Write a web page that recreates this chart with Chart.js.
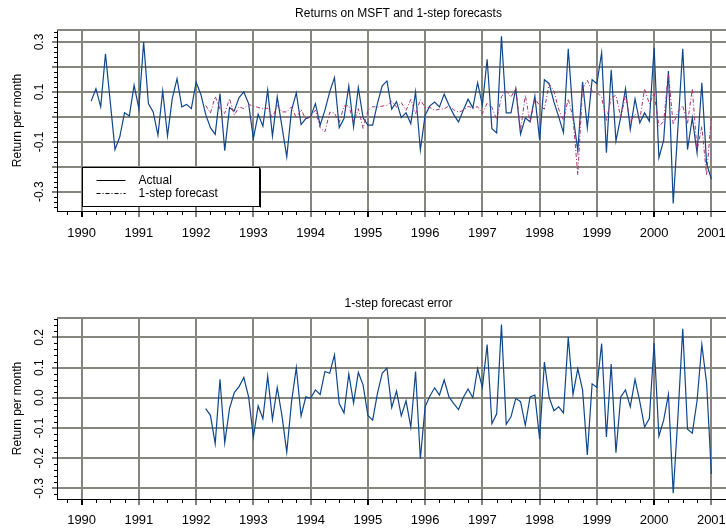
<!DOCTYPE html>
<html>
<head>
<meta charset="utf-8">
<script src="https://cdn.jsdelivr.net/npm/chart.js@4.4.0/dist/chart.umd.min.js"></script>
<style>
html, body { margin: 0; padding: 0; background: #fff; overflow: hidden; width: 726px; height: 529px; }
#chart1 { position: absolute; left: 0; top: 0; }
#chart2 { position: absolute; left: 0; top: 262px; }
</style>
</head>
<body>
<canvas id="chart1" width="760" height="262"></canvas>
<canvas id="chart2" width="760" height="267"></canvas>
<script>
// monthly MSFT returns, Mar 1990 .. Jan 2001
const actualStart = '1990-03';
const actual = [
    0.063, 0.113, 0.040, 0.253, 0.060, -0.131, -0.080, 0.017, 0.004, 0.127,
    0.033, 0.300, 0.053, 0.020, -0.073, 0.104, -0.076, 0.073, 0.153, 0.040, 0.050, 0.033,
    0.139, 0.090, 0.010, -0.043, -0.070, 0.093, -0.135, 0.037, 0.024, 0.077, 0.100, 0.053,
    -0.087, 0.011, -0.037, 0.107, -0.077, 0.080, -0.040, -0.160, 0.027, 0.096, -0.031, -0.007,
    0.000, 0.053, -0.033, 0.027, 0.100, 0.157, -0.043, -0.007, 0.124, -0.040, 0.117, -0.004,
    -0.033, -0.033, 0.053, 0.124, 0.144, 0.031, 0.061, -0.003, 0.016, -0.027, 0.100, -0.133,
    0.007, 0.044, 0.059, 0.040, 0.091, 0.047, 0.009, -0.020, 0.027, 0.071, 0.036, 0.137,
    0.047, 0.231, -0.047, -0.064, 0.323, 0.016, 0.016, 0.113, -0.069, -0.004, -0.020, 0.083,
    -0.091, 0.149, 0.133, 0.060, 0.000, -0.063, 0.273, 0.007, -0.136, 0.140, -0.043, 0.149,
    0.133, 0.257, -0.144, 0.189, -0.096, 0.000, 0.113, -0.051, 0.072, -0.024, 0.016, -0.017,
    0.277, -0.164, -0.093, 0.184, -0.347, -0.040, 0.273, -0.131, -0.004, -0.144, 0.137, -0.187,
    -0.249
];

// 1-step forecasts and errors, Mar 1992 .. Jan 2001
const forecastStart = '1992-03';
const forecast = [
    0.046, 0.015, 0.082, 0.032, 0.014, 0.073, 0.007, 0.040, 0.033, 0.050,
    0.043, 0.038, 0.032, 0.035, -0.005, 0.046, 0.020, 0.020, 0.040, -0.004, 0.029, -0.010,
    0.002, 0.027, -0.044, -0.060, 0.019, 0.015, -0.024, 0.043, 0.045, -0.023, 0.033, -0.046,
    0.025, 0.041, 0.039, 0.043, 0.046, 0.063, 0.039, 0.057, 0.026, 0.070, 0.013, 0.069,
    0.037, 0.038, 0.026, 0.031, 0.032, 0.044, 0.028, 0.019, 0.026, 0.042, 0.036, 0.041,
    0.013, 0.055, 0.039, -0.011, 0.081, 0.104, 0.079, 0.115, -0.056, 0.087, -0.023, 0.074,
    0.045, 0.031, 0.132, 0.103, 0.030, -0.013, 0.072, -0.004, -0.232, 0.114, 0.146, 0.103,
    0.099, 0.078, -0.014, 0.077, 0.086, -0.003, 0.087, -0.021, 0.011, -0.011, 0.113, 0.052,
    0.096, -0.037, -0.019, 0.173, -0.031, 0.020, 0.045, -0.027, 0.113, -0.134, -0.039, -0.235,
    0.003
];
const fcError = [
    -0.036, -0.058, -0.152, 0.061, -0.149, -0.036, 0.017, 0.037, 0.067, 0.003,
    -0.130, -0.027, -0.069, 0.072, -0.072, 0.034, -0.060, -0.180, -0.013, 0.100, -0.060, 0.003,
    -0.002, 0.026, 0.011, 0.087, 0.081, 0.142, -0.019, -0.050, 0.079, -0.017, 0.084, 0.042,
    -0.058, -0.074, 0.014, 0.081, 0.098, -0.032, 0.022, -0.060, -0.010, -0.097, 0.087, -0.202,
    -0.030, 0.006, 0.033, 0.009, 0.059, 0.003, -0.019, -0.039, 0.001, 0.029, 0.000, 0.096,
    0.034, 0.176, -0.086, -0.053, 0.242, -0.088, -0.063, -0.002, -0.013, -0.091, 0.003, 0.009,
    -0.136, 0.118, 0.001, -0.043, -0.030, -0.050, 0.201, 0.011, 0.096, 0.026, -0.189, 0.046,
    0.034, 0.179, -0.130, 0.112, -0.182, 0.003, 0.026, -0.030, 0.061, -0.013, -0.097, -0.069,
    0.181, -0.127, -0.074, 0.011, -0.316, -0.060, 0.228, -0.104, -0.117, -0.010, 0.176, 0.048,
    -0.252
];

const yearTicks = [1990, 1991, 1992, 1993, 1994, 1995, 1996, 1997, 1998, 1999, 2000, 2001];
const gridTop = [-0.3, -0.2, -0.1, 0, 0.1, 0.2, 0.3];
const labelsTop = [['0.3', 0.3], ['0.1', 0.1], ['-0.1', -0.1], ['-0.3', -0.3]];
const gridBottom = [-0.3, -0.2, -0.1, 0, 0.1, 0.2];
const labelsBottom = [['0.2', 0.2], ['0.1', 0.1], ['0.0', 0], ['-0.1', -0.1], ['-0.2', -0.2], ['-0.3', -0.3]];

const gridColor = '#86867f';
const blue = '#10478c';
const purple = '#a8306e';
const fontName = "'Liberation Sans', Arial, sans-serif";

Chart.defaults.font.family = fontName;
Chart.defaults.color = '#000';

// month string 'YYYY-MM' -> decimal year, then pair with the values
function toPoints(start, values) {
    const y0 = parseInt(start.slice(0, 4));
    const m0 = parseInt(start.slice(5, 7)) - 1;
    return values.map((v, i) => ({ x: y0 + (m0 + i) / 12, y: v }));
}

// titles, rotated y labels, minor ticks, legend
const extras = {
    id: 'extras',
    afterDraw(chart, args, opts) {
        const ctx = chart.ctx;
        const a = chart.chartArea;
        const xs = chart.scales.x;
        const ys = chart.scales.y;
        ctx.save();

        ctx.strokeStyle = gridColor;
        ctx.lineWidth = 2;
        ctx.beginPath();
        ctx.moveTo(a.left, a.top);
        ctx.lineTo(a.right, a.top);
        ctx.stroke();

        ctx.strokeStyle = '#000';
        ctx.lineWidth = 1;
        for (let i = -3; i < 48; i++) {
            if (i % 4 === 0) continue;
            const px = Math.round(xs.getPixelForValue(1990 + i / 4)) + 0.5;
            if (px < a.left || px > a.right) continue;
            ctx.beginPath();
            ctx.moveTo(px, a.bottom);
            ctx.lineTo(px, a.bottom + 4);
            ctx.stroke();
        }
        for (let i = -20; i <= 20; i++) {
            if (i % 5 === 0) continue;
            const py = Math.round(ys.getPixelForValue(i * 0.02)) + 0.5;
            if (py < a.top || py > a.bottom) continue;
            ctx.beginPath();
            ctx.moveTo(a.left, py);
            ctx.lineTo(a.left - 3, py);
            ctx.stroke();
        }

        ctx.fillStyle = '#000';
        ctx.font = '12px ' + fontName;
        ctx.textAlign = 'center';
        ctx.textBaseline = 'middle';
        opts.labels.forEach(l => {
            ctx.save();
            ctx.translate(40, ys.getPixelForValue(l[1]));
            ctx.rotate(-Math.PI / 2);
            ctx.fillText(l[0], 0, 0);
            ctx.restore();
        });
        ctx.save();
        ctx.translate(18, (a.top + a.bottom) / 2);
        ctx.rotate(-Math.PI / 2);
        ctx.fillText('Return per month', 0, 0);
        ctx.restore();

        ctx.font = '12px ' + fontName;
        ctx.fillText(opts.title, (a.left + a.right) / 2, opts.titleY);

        if (opts.legend) {
            const lx = Math.round(xs.getPixelForValue(1990)) + 0.5;
            const ly = Math.round(ys.getPixelForValue(-0.2)) + 0.5;
            const w = 177, h = 39;
            ctx.fillStyle = '#fff';
            ctx.fillRect(lx, ly, w, h);
            ctx.strokeStyle = '#000';
            ctx.lineWidth = 1;
            ctx.strokeRect(lx, ly, w, h);
            ctx.beginPath();
            ctx.moveTo(lx + w + 1, ly + 1);
            ctx.lineTo(lx + w + 1, ly + h + 1);
            ctx.stroke();

            ctx.beginPath();
            ctx.moveTo(lx + 14, ly + 13);
            ctx.lineTo(lx + 43, ly + 13);
            ctx.stroke();
            ctx.setLineDash([4, 2, 1, 2]);
            ctx.beginPath();
            ctx.moveTo(lx + 14, ly + 26);
            ctx.lineTo(lx + 43, ly + 26);
            ctx.stroke();
            ctx.setLineDash([]);

            ctx.fillStyle = '#000';
            ctx.font = '12px ' + fontName;
            ctx.textAlign = 'left';
            ctx.fillText('Actual', lx + 56, ly + 13);
            ctx.fillText('1-step forecast', lx + 56, ly + 26.5);
        }
        ctx.restore();
    }
};

function makeScales(yMin, yMax, yGrid, xHeight, xPad) {
    return {
        x: {
            type: 'linear',
            min: 1989.57,
            max: 2001.5,
            afterBuildTicks: s => { s.ticks = yearTicks.map(v => ({ value: v })); },
            afterFit: s => { s.height = xHeight; },
            grid: {
                color: gridColor,
                lineWidth: 2,
                tickLength: 6,
                tickColor: '#000',
                tickWidth: c => (c.tick && c.tick.value % 5 === 0) ? 2 : 1
            },
            border: { color: '#000', width: 1 },
            ticks: {
                font: { size: 13 },
                padding: xPad,
                maxRotation: 0,
                autoSkip: false,
                callback: v => String(v)
            }
        },
        y: {
            type: 'linear',
            min: yMin,
            max: yMax,
            afterBuildTicks: s => { s.ticks = yGrid.map(v => ({ value: v })); },
            afterFit: s => { s.width = 57; },
            grid: {
                color: gridColor,
                lineWidth: 2,
                tickLength: 5,
                tickColor: '#000',
                tickWidth: 1
            },
            border: { color: '#000', width: 1 },
            ticks: { display: false }
        }
    };
}

new Chart(document.getElementById('chart1').getContext('2d'), {
    type: 'line',
    data: {
        datasets: [
            {
                label: '1-step forecast',
                data: toPoints(forecastStart, forecast),
                borderColor: purple,
                borderWidth: 1,
                borderDash: [4, 2, 1, 2],
                pointRadius: 0,
                tension: 0
            },
            {
                label: 'Actual',
                data: toPoints(actualStart, actual),
                borderColor: blue,
                borderWidth: 1.2,
                pointRadius: 0,
                tension: 0
            }
        ]
    },
    options: {
        responsive: false,
        devicePixelRatio: 1,
        animation: false,
        layout: { padding: { top: 30, right: 20, left: 0, bottom: 0 } },
        plugins: {
            legend: { display: false },
            title: { display: false },
            tooltip: { enabled: false },
            extras: { title: 'Returns on MSFT and 1-step forecasts', titleY: 14, labels: labelsTop, legend: true }
        },
        scales: makeScales(-0.377, 0.348, gridTop, 51, 9)
    },
    plugins: [extras]
});

new Chart(document.getElementById('chart2').getContext('2d'), {
    type: 'line',
    data: {
        datasets: [
            {
                label: '1-step forecast error',
                data: toPoints(forecastStart, fcError),
                borderColor: blue,
                borderWidth: 1.2,
                pointRadius: 0,
                tension: 0
            }
        ]
    },
    options: {
        responsive: false,
        devicePixelRatio: 1,
        animation: false,
        layout: { padding: { top: 56, right: 20, left: 0, bottom: 0 } },
        plugins: {
            legend: { display: false },
            title: { display: false },
            tooltip: { enabled: false },
            extras: { title: '1-step forecast error', titleY: 42, labels: labelsBottom, legend: false }
        },
        scales: makeScales(-0.335, 0.264, gridBottom, 30, 8)
    },
    plugins: [extras]
});
</script>
</body>
</html>
